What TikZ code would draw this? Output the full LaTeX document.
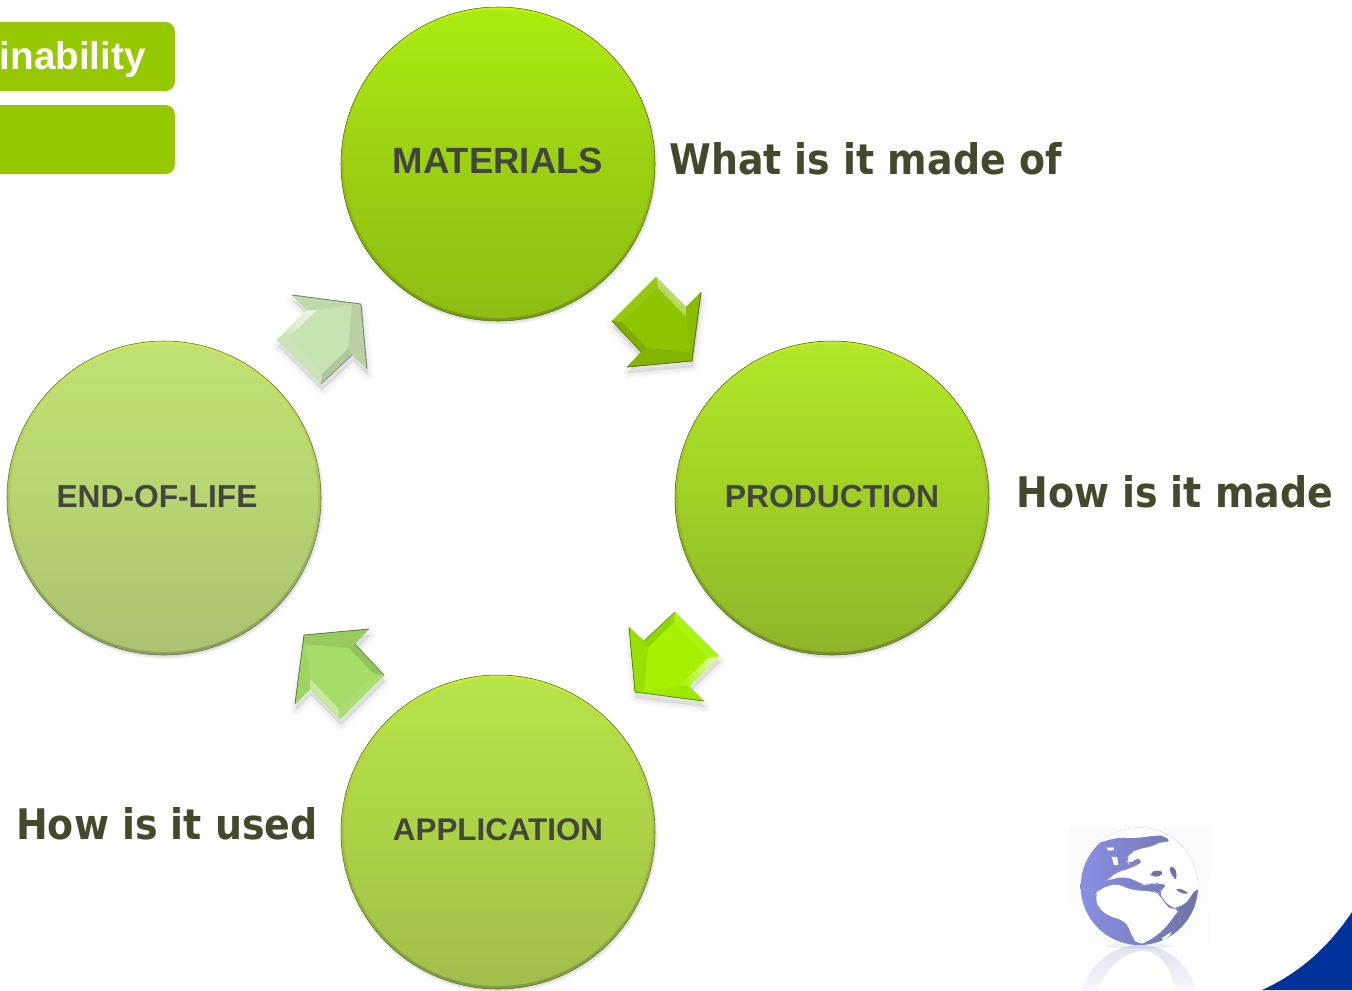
\documentclass[tikz,border=0pt]{standalone}
\usepackage{fontspec}
\setmainfont{Liberation Sans}
\newfontfamily\labelfont{DejaVu Sans Condensed}
\usetikzlibrary{calc,backgrounds}
\definecolor{boxgreen}{HTML}{96C800}
\definecolor{darktext}{HTML}{434A2C}
\definecolor{bubbletext}{HTML}{43463C}
\definecolor{cornerblue}{HTML}{003399}
\definecolor{globeleft}{HTML}{8A90E6}
\definecolor{globeright}{HTML}{6E72A4}
\definecolor{globepale}{HTML}{E2E2F2}
\definecolor{mata}{HTML}{A9EC10}\definecolor{matb}{HTML}{9CD012}\definecolor{matc}{HTML}{8FBC14}
\definecolor{proa}{HTML}{B0E82A}\definecolor{prob}{HTML}{A0D024}\definecolor{proc}{HTML}{8FB42C}
\definecolor{appa}{HTML}{B6E44A}\definecolor{appb}{HTML}{ABD245}\definecolor{appc}{HTML}{A0BE4C}
\definecolor{enda}{HTML}{C0E274}\definecolor{endb}{HTML}{B6D470}\definecolor{endc}{HTML}{AAC272}
\tikzset{
 bubble/.style n args={3}{circle, minimum size=235.5pt, inner sep=0, text=bubbletext, text depth=3pt,
   draw=#3!55!black, line width=.4pt, top color=#1!75!yellow, bottom color=#3!82!black,
   path picture={\shade[top color=#1, bottom color=#3, middle color=#2] (path picture bounding box.center) circle (115.5pt);}},
 topbox/.style={fill=boxgreen, rounded corners=7pt, minimum width=176pt, minimum height=51.75pt},
 sidelabel/.style={text=darktext, font=\labelfont\bfseries\fontsize{31.6}{36}\selectfont, inner sep=0},
 pics/blockarrow/.style={code={
  \fill[#1] (-9,-54)--(21,-24)--(36,-39)--(27,30)--(-38,36)--(-24,21)--(-53,-10)--cycle;
  \shade[top color=#1!35!white, bottom color=#1!90!white, shading angle=-45] (-9,-54)--(21,-24)--(21,-14)--(-7,-43)--cycle;
  \fill[#1!94!white] (-9,-54)--(-7,-43)--(-43,-9)--(-53,-10)--cycle;
  \fill[#1!96!black] (21,-24)--(36,-39)--(27,30)--(26,21)--(21,-14)--cycle;
  \fill[#1!92!black] (27,30)--(-38,36)--(-24,21)--(-18,17)--(26,21)--cycle;
  \fill[#1!88!black] (-24,21)--(-18,17)--(-43,-9)--(-53,-10)--cycle;
  \draw[#1!55!black, line width=.6pt, line join=round] (36,-39)--(27,30)--(-38,36);
  \draw[#1!55!black, line width=.4pt, line join=round] (-24,21)--(-53,-10);
 }},
 pics/arrowshade/.style={code={
  \foreach \w in {1,3,5,7,9}
   \draw[black, opacity=.014, fill=black, line width=\w pt, line join=round] (-9,-54)--(21,-24)--(36,-39)--(27,30)--(-38,36)--(-24,21)--(-53,-10)--cycle;
 }}
}
\begin{document}
\begin{tikzpicture}[x=.75pt, y=-.75pt]
\useasboundingbox (0,0) rectangle (1352,990);
\clip (0,0) rectangle (1352,990);
% top left boxes
\node[topbox] (boxa) at (57.5,56.5) {};
\node[topbox] (boxb) at (57.5,139.5) {};
\node[anchor=east, text=white, font=\bfseries\fontsize{29}{34}\selectfont, inner sep=0] (boxtext) at (146,59) {inability};
% the cycle
\node[bubble={mata}{matb}{matc}, font=\bfseries\fontsize{27.4}{32}\selectfont, text depth=5pt] (materials) at (498,164) {MATERIALS};
\node[bubble={proa}{prob}{proc}, font=\bfseries\fontsize{23.9}{28}\selectfont] (production) at (832,498) {PRODUCTION};
\node[bubble={appa}{appb}{appc}, font=\bfseries\fontsize{23.5}{28}\selectfont] (application) at (498,832) {APPLICATION};
\node[bubble={enda}{endb}{endc}, font=\bfseries\fontsize{23.8}{28}\selectfont] (endoflife) at (164,498) {END-OF-LIFE\hspace*{10.5pt}};
\begin{scope}[on background layer]
\foreach \n in {materials,production,application,endoflife}
 \foreach \r in {159,158,157}
  \fill[black, opacity=.04] ($(\n)+(1,2)$) circle (\r);
\end{scope}
\foreach \a/\b/\ang/\col in {materials/production/0/8FC400, production/application/-90/A6F200, application/endoflife/-180/A6DC68, endoflife/materials/-270/C8E2B2} {
 \definecolor{arrowfill}{HTML}{\col}
 \pic[rotate=\ang] at ($(\a)!.5!(\b)+(1,6)$) {arrowshade};
 \pic[rotate=\ang] at ($(\a)!.5!(\b)$) {blockarrow=arrowfill};
}
\node[sidelabel, anchor=west] (madeof) at (669,159) {What is it made of};
\node[sidelabel, anchor=west] (howmade) at (1016,492) {How is it made};
\node[sidelabel, anchor=west] (howused) at (16,824) {How is it used};
% corner and globe
\fill[cornerblue] (1352,912) .. controls (1325,952) and (1295,975) .. (1262,990) -- (1352,990) -- cycle;
\begin{scope}[shift={(1040,810)}, scale=1/3]
\shade[top color=black!2, bottom color=white] (87,54) rectangle (508,540);
\shade[top color=globepale, bottom color=globepale!30!white] (125,540) .. controls (150,460) and (220,405) .. (298,405) .. controls (380,405) and (445,460) .. (468,540) -- cycle;
\shade[top color=white, bottom color=white] (175,540) .. controls (200,470) and (255,425) .. (310,422) .. controls (365,425) and (395,480) .. (405,540) -- cycle;
\fill[black, opacity=.06] (298,408) ellipse (100 and 8);
\begin{scope}
\clip (298,229) circle (176);
\shade[left color=globeleft, right color=globeright] (110,50) rectangle (490,420);
\fill[white, rounded corners=5] (100,40) -- (100,105) -- (170,100) -- (205,90) -- (235,82) -- (285,85) -- (315,80) -- (375,75) -- (395,100) -- (365,92) -- (345,108) -- (320,112) -- (295,118) -- (272,128) -- (258,150) -- (268,165) -- (290,140) -- (310,150) -- (300,165) -- (280,170) -- (262,180) -- (230,185) -- (212,205) -- (198,212) -- (225,205) -- (255,200) -- (285,210) -- (310,225) -- (318,225) -- (335,215) -- (348,222) -- (385,222) -- (365,240) -- (355,250) -- (395,295) -- (405,295) -- (440,280) -- (460,245) -- (470,235) -- (500,235) -- (500,40) -- cycle;
\fill[white, rounded corners=5] (165,255) -- (175,240) -- (225,220) -- (275,240) -- (345,245) -- (355,252) -- (392,302) -- (420,295) -- (405,315) -- (375,355) -- (345,380) -- (320,395) -- (295,405) -- (275,380) -- (270,355) -- (250,330) -- (210,320) -- (175,295) -- cycle;
\fill[white] (215,140) -- (232,142) -- (235,165) -- (222,165) -- cycle;
\fill[white] (200,113) -- (220,112) -- (222,120) -- (204,122) -- cycle;
\fill[white] (365,385) -- (395,365) -- (390,375) -- (372,392) -- cycle;
\fill[globeright, rounded corners=3] (330,188) -- (350,180) -- (372,185) -- (360,200) -- (335,200) -- cycle;
\fill[globeright, rounded corners=3] (385,170) -- (405,170) -- (412,208) -- (400,205) -- cycle;
\fill[globeright, rounded corners=2] (405,238) -- (420,235) -- (448,250) -- (430,252) -- cycle;
\end{scope}
\end{scope}
\end{tikzpicture}
\end{document}
